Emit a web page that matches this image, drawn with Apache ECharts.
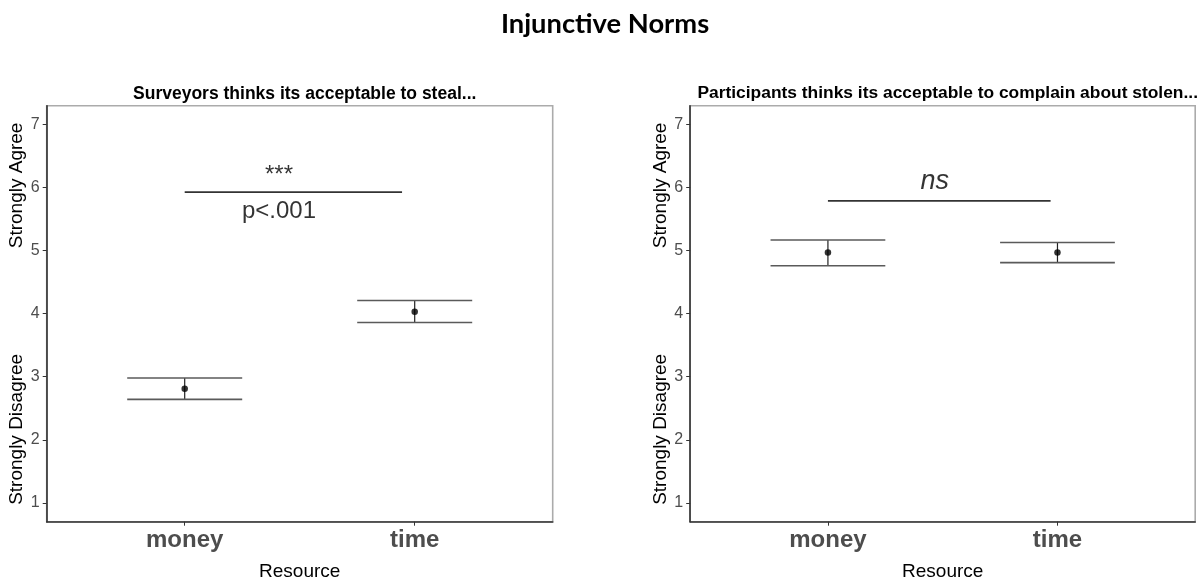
<!DOCTYPE html>
<html>
<head>
<meta charset="utf-8">
<title>Injunctive Norms</title>
<script src="https://cdn.jsdelivr.net/npm/echarts@6/dist/echarts.min.js"></script>
<style>
  html, body { margin: 0; padding: 0; background: #ffffff; }
  #chart { width: 1199px; height: 582px; }
</style>
</head>
<body>
<div id="chart"></div>
<script>
// Resource categories on the x axis (placed at positions 1 and 2)
const categories = ['money', 'time'];

// Left panel: surveyors think it is acceptable to steal
const stealMean  = [2.81, 4.03];
const stealUpper = [2.98, 4.21];
const stealLower = [2.64, 3.86];

// Right panel: participants think it is acceptable to complain
const complainMean  = [4.97, 4.97];
const complainUpper = [5.17, 5.13];
const complainLower = [4.76, 4.81];

// Likert scale ticks
const yTicks = [1, 2, 3, 4, 5, 6, 7];

// Significance brackets: [xStart, xEnd, y]
const stealBracket    = [1, 1.945, 5.93];
const complainBracket = [1, 1.97, 5.79];

// Bracket annotations: [x, y, text]
const stealNotes    = [[1.41, 6.19, '***'], [1.41, 5.63, 'p<.001']];
const complainNotes = [[1.465, 6.1, 'ns']];

const panelTitles = [
  'Surveyors thinks its acceptable to steal...',
  'Participants thinks its acceptable to complain about stolen...'
];

const FONT = '"Liberation Sans", Arial, Helvetica, sans-serif';
const CAP_HALF = 0.25;

const grids = [
  { left: 46.7, top: 105.7, width: 506, height: 416 },
  { left: 690.2, top: 105.7, width: 505, height: 416 }
];

function xAxisFor(i) {
  return {
    type: 'value', gridIndex: i, min: 0.4, max: 2.6,
    name: 'Resource', nameLocation: 'middle', nameGap: 41,
    nameTextStyle: { fontFamily: FONT, fontSize: 19, color: '#000000' },
    axisLine: { show: true, lineStyle: { color: '#333333', width: 1.6 } },
    axisTick: { show: true, length: 4, customValues: [1, 2], lineStyle: { color: '#333333', width: 1 } },
    axisLabel: {
      customValues: [1, 2], margin: 7,
      formatter: v => categories[Math.round(v) - 1] || '',
      fontFamily: FONT, fontSize: 24, fontWeight: 'bold', color: '#4d4d4d'
    },
    splitLine: { show: false }
  };
}

function yAxisFor(i) {
  return {
    type: 'value', gridIndex: i, min: 0.7, max: 7.3,
    name: 'Strongly Disagree                    Strongly Agree',
    nameLocation: 'middle', nameGap: 20,
    nameTextStyle: { fontFamily: FONT, fontSize: 19, color: '#000000' },
    axisLine: { show: true, lineStyle: { color: '#333333', width: 1.6 } },
    axisTick: { show: true, length: 4, customValues: yTicks, lineStyle: { color: '#333333', width: 1 } },
    axisLabel: {
      customValues: yTicks, margin: 7,
      fontFamily: FONT, fontSize: 16, color: '#4d4d4d'
    },
    splitLine: { show: false }
  };
}

function errorBarItem(params, api) {
  const x = api.value(0), lo = api.value(1), hi = api.value(2);
  const a = api.coord([x, lo]), b = api.coord([x, hi]);
  const loL = api.coord([x - CAP_HALF, lo]), loR = api.coord([x + CAP_HALF, lo]);
  const hiL = api.coord([x - CAP_HALF, hi]), hiR = api.coord([x + CAP_HALF, hi]);
  const capStyle = { stroke: '#5a5a5a', lineWidth: 1.6 };
  return {
    type: 'group',
    children: [
      { type: 'line', shape: { x1: a[0], y1: a[1], x2: b[0], y2: b[1] }, style: { stroke: '#222222', lineWidth: 1.2 } },
      { type: 'line', shape: { x1: loL[0], y1: loL[1], x2: loR[0], y2: loR[1] }, style: capStyle },
      { type: 'line', shape: { x1: hiL[0], y1: hiL[1], x2: hiR[0], y2: hiR[1] }, style: capStyle }
    ]
  };
}

function panelSeries(i, mean, lower, upper, bracket, notes, noteStyle) {
  const bars = categories.map((c, k) => [k + 1, lower[k], upper[k]]);
  const pts = categories.map((c, k) => [k + 1, mean[k]]);
  return [
    {
      type: 'custom', xAxisIndex: i, yAxisIndex: i,
      renderItem: errorBarItem, data: bars, silent: true
    },
    {
      type: 'scatter', xAxisIndex: i, yAxisIndex: i,
      data: pts, symbol: 'circle', symbolSize: 6.5,
      itemStyle: { color: '#000000' }, silent: true
    },
    {
      type: 'line', xAxisIndex: i, yAxisIndex: i,
      data: [[bracket[0], bracket[2]], [bracket[1], bracket[2]]],
      showSymbol: false, symbol: 'none',
      lineStyle: { color: '#333333', width: 1.8 }, silent: true
    },
    {
      type: 'scatter', xAxisIndex: i, yAxisIndex: i,
      data: notes.map(n => ({ value: [n[0], n[1]], name: n[2] })),
      symbolSize: 1, itemStyle: { color: 'rgba(0,0,0,0)' }, silent: true,
      label: Object.assign({
        show: true, position: 'inside',
        formatter: p => p.name,
        fontFamily: FONT, color: '#000000'
      }, noteStyle)
    }
  ];
}

const chart = echarts.init(document.getElementById('chart'), null, { renderer: 'canvas' });

const series = [].concat(
  panelSeries(0, stealMean, stealLower, stealUpper, stealBracket, stealNotes,
    { fontSize: 24, fontStyle: 'normal' }),
  panelSeries(1, complainMean, complainLower, complainUpper, complainBracket, complainNotes,
    { fontSize: 27, fontStyle: 'italic' })
);

chart.setOption({
  backgroundColor: '#ffffff',
  animation: false,
  title: [
    {
      text: 'Injunctive Norms', left: 600, top: 6, textAlign: 'center',
      textStyle: { fontFamily: 'Lato, "Open Sans", sans-serif', fontWeight: 'bold', fontSize: 27.3, color: '#000000' }
    },
    {
      text: panelTitles[0], left: grids[0].left + grids[0].width / 2, top: 80, textAlign: 'center',
      textStyle: { fontFamily: FONT, fontWeight: 'bold', fontSize: 17.5, color: '#000000' }
    },
    {
      text: panelTitles[1], left: grids[1].left + grids[1].width / 2, top: 80, textAlign: 'center',
      textStyle: { fontFamily: FONT, fontWeight: 'bold', fontSize: 17.4, color: '#000000' }
    }
  ],
  grid: grids.map(g => Object.assign({
    show: true, borderColor: '#ababab', borderWidth: 1.6, backgroundColor: '#ffffff',
    containLabel: false, outerBoundsMode: 'none'
  }, g)),
  xAxis: [xAxisFor(0), xAxisFor(1)],
  yAxis: [yAxisFor(0), yAxisFor(1)],
  series: series
});
</script>
</body>
</html>
